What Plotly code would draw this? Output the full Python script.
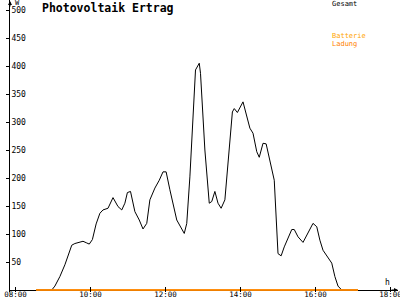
import plotly.graph_objects as go

# ---- data ----
times = ["08:33", "08:50", "08:58", "09:03", "09:11", "09:19", "09:24", "09:30", "09:35", "09:40",
         "09:48", "09:54", "09:58", "10:03", "10:09", "10:15", "10:20", "10:28", "10:36", "10:44",
         "10:50", "10:55", "10:59", "11:04", "11:11", "11:18", "11:24", "11:30", "11:35", "11:43",
         "11:50", "11:56", "12:01", "12:07", "12:18", "12:30", "12:34", "12:39", "12:44", "12:48",
         "12:54", "12:56", "13:03", "13:10", "13:14", "13:19", "13:24", "13:29", "13:35", "13:40",
         "13:47", "13:50", "13:55", "14:04", "14:12", "14:15", "14:20", "14:26", "14:30", "14:36",
         "14:41", "14:50", "14:54", "15:00", "15:05", "15:10", "15:16", "15:22", "15:26", "15:32",
         "15:40", "15:48", "15:56", "16:02", "16:07", "16:12", "16:20", "16:26", "16:31", "16:36",
         "16:42", "17:08"]
gesamt = [0, 0, 0, 7, 24, 45, 62, 80, 83, 85,
          87, 84, 82, 90, 118, 137, 143, 146, 165, 149,
          143, 155, 174, 176, 140, 125, 109, 119, 161, 182,
          196, 211, 211, 179, 125, 101, 119, 202, 309, 393,
          405, 387, 250, 155, 158, 176, 155, 146, 161, 232,
          318, 324, 317, 336, 301, 289, 280, 247, 237, 262,
          261, 214, 196, 65, 61, 77, 92, 108, 108, 95,
          85, 101, 119, 113, 89, 71, 58, 48, 24, 7,
          0, 0]
batterie = [0 for _ in times]
ladung = [0 for _ in times]

x_tick_vals = [8, 10, 12, 14, 16, 18]
x_tick_text = ["08:00", "10:00", "12:00", "14:00", "16:00", "18:00"]
y_tick_vals = [50, 100, 150, 200, 250, 300, 350, 400, 450, 500]


def to_hours(s):
    h, m = s.split(":")
    return int(h) + int(m) / 60.0


hours = [to_hours(t) for t in times]

FONT = "DejaVu Sans Mono"

fig = go.Figure()
fig.add_trace(go.Scatter(x=hours, y=gesamt, mode="lines",
                         line=dict(color="black", width=1), name="Gesamt"))
fig.add_trace(go.Scatter(x=hours, y=batterie, mode="lines",
                         line=dict(color="#FFA500", width=1.5), name="Batterie"))
fig.add_trace(go.Scatter(x=hours, y=ladung, mode="lines",
                         line=dict(color="#FF8000", width=1.5), name="Ladung"))

fig.update_layout(
    width=400, height=300,
    margin=dict(l=10, r=2, t=0, b=8),
    paper_bgcolor="white", plot_bgcolor="white",
    showlegend=False,
    font=dict(family=FONT, size=8, color="black"),
    xaxis=dict(range=[7.853, 18.2], showgrid=False, zeroline=False,
               showline=False, automargin=False,
               tickvals=x_tick_vals, ticktext=x_tick_text,
               ticks="inside", ticklen=5, tickcolor="black",
               ticklabeloverflow="allow", ticklabelstandoff=-4,
               tickfont=dict(family=FONT, size=7.5, color="black")),
    yaxis=dict(range=[-3.57, 517.9], showgrid=False, automargin=False,
               zeroline=True, zerolinecolor="black", zerolinewidth=1,
               showline=True, linecolor="black", linewidth=1,
               tickvals=y_tick_vals, ticks="outside", ticklen=3,
               tickcolor="black", ticklabelposition="inside",
               ticklabeloverflow="allow",
               tickfont=dict(family=FONT, size=8, color="black"),
               layer="below traces"),
)

ann = [
    dict(text="<b>Photovoltaik Ertrag</b>", x=40, y=8, font=dict(size=11.5, color="black"), xanchor="left"),
    dict(text="Gesamt", x=330, y=4, font=dict(size=7, color="black"), xanchor="left"),
    dict(text="Batterie", x=330, y=36, font=dict(size=7, color="#FFA500"), xanchor="left"),
    dict(text="Ladung", x=330, y=44, font=dict(size=7, color="#FF8000"), xanchor="left"),
    dict(text="W", x=17, y=3, font=dict(size=7, color="black"), xanchor="center"),
    dict(text="h", x=387, y=282, font=dict(size=8, color="black"), xanchor="center"),
]
for a in ann:
    fig.add_annotation(text=a["text"], xref="paper", yref="paper",
                       x=(a["x"] - 10) / 388.0, y=(292 - a["y"]) / 292.0,
                       xanchor=a["xanchor"], yanchor="middle", showarrow=False,
                       font=dict(family=FONT, **a["font"]))

# axis arrows
fig.add_annotation(xref="paper", yref="paper", x=0, y=1.0, ax=0, ay=8, text="",
                   showarrow=True, arrowhead=2, arrowsize=0.8, arrowwidth=1, arrowcolor="black")
fig.add_annotation(xref="paper", yref="y", x=1.0, y=0, ax=-8, ay=0, text="",
                   showarrow=True, arrowhead=2, arrowsize=0.8, arrowwidth=1, arrowcolor="black")

fig.write_html("out.html")
